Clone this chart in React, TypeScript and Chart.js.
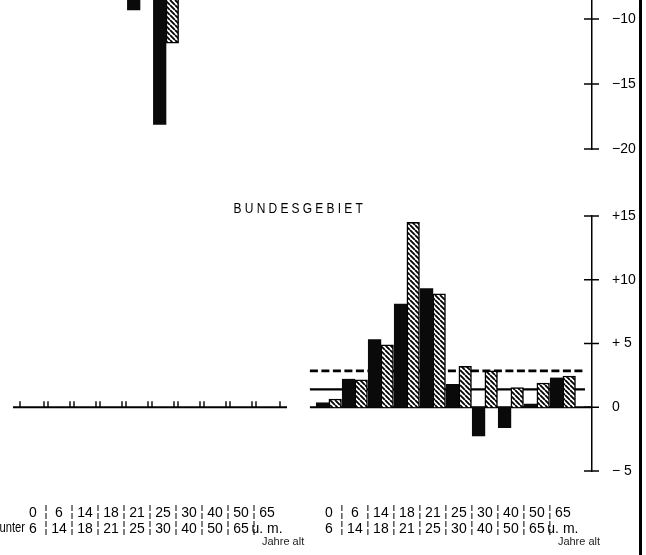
import React, { useEffect, useRef } from "react";
import { Chart, registerables } from "chart.js";
Chart.register(...registerables);

// ---- data ----
const ageFrom = ["0", "6", "14", "18", "21", "25", "30", "40", "50", "65"];
const ageTo = ["6", "14", "18", "21", "25", "30", "40", "50", "65", "u. m."];

// upper panel (cut off at the top of the picture); null = not visible
const upperLeftBlack = [null, null, null, null, -9.3, -18.1, null, null, null, null];
const upperLeftHatched = [null, null, null, null, null, -11.85, null, null, null, null];

// BUNDESGEBIET, right half
const lowerRightBlack = [0.35, 2.2, 5.3, 8.1, 9.3, 1.8, -2.25, -1.6, 0.25, 2.3];
const lowerRightHatched = [0.65, 2.15, 4.9, 14.5, 8.9, 3.2, 2.85, 1.55, 1.9, 2.45];

const refDashed = 2.85;
const refSolid = 1.4;

const upperTicks = [-10, -15, -20];
const upperTickLabels = ["\u221210", "\u221215", "\u221220"];
const lowerTicks = [15, 10, 5, 0, -5];
const lowerTickLabels = ["+15", "+10", "+ 5", "0", "\u2212 5"];

const titleText = "BUNDESGEBIET";
const underText = "unter";
const unitText = "Jahre alt";

// ---- layout constants ----
const FONT = "'Liberation Sans Narrow', 'Liberation Sans', Arial, sans-serif";
const SLOT = 26;
const X_MIN = -33 / SLOT;
const X_MIN_TOP = -36 / SLOT;
const X_SPAN = 592 / SLOT;
const RIGHT_OFFSET = 11.38;
const BAR_W = 12.6;
const LABEL_PAD = 26;
const LINE_H = 16;
const ROW_SHIFT = 7;

function makeHatch(): CanvasPattern | string {
  const s = 5;
  const c = document.createElement("canvas");
  c.width = s;
  c.height = s;
  const g = c.getContext("2d");
  if (!g) return "#888";
  g.fillStyle = "#fff";
  g.fillRect(0, 0, s, s);
  g.strokeStyle = "#000";
  g.lineWidth = 1.8;
  g.beginPath();
  for (const k of [-s, 0, s]) {
    g.moveTo(k, 0);
    g.lineTo(k + s, s);
  }
  g.stroke();
  return g.createPattern(c, "repeat") || "#888";
}

function crossTicks(values: number[]) {
  return {
    id: "crossTicks",
    afterDraw(chart: any) {
      const ys = chart.scales.y;
      const ctx = chart.ctx;
      const x0 = chart.chartArea.right;
      ctx.save();
      ctx.strokeStyle = "#000";
      ctx.lineWidth = 1.5;
      values.forEach((v) => {
        const py = ys.getPixelForValue(v);
        ctx.beginPath();
        ctx.moveTo(x0 - 8, py);
        ctx.lineTo(x0 + 7, py);
        ctx.stroke();
      });
      ctx.restore();
    },
  };
}

function yAxis(min: number, max: number, ticks: number[], labels: string[]) {
  return {
    type: "linear",
    position: "right",
    min,
    max,
    grid: { display: false },
    border: { display: true, color: "#000", width: 1.5 },
    afterBuildTicks: (scale: any) => {
      scale.ticks = ticks.map((v) => ({ value: v }));
    },
    afterFit: (scale: any) => {
      scale.width = 54;
      scale.paddingTop = 0;
      scale.paddingBottom = 0;
    },
    ticks: {
      padding: 12,
      color: "#000",
      font: { family: FONT, size: 14 },
      callback: (v: number) => labels[ticks.indexOf(v)] ?? "",
    },
  };
}

function TopChart() {
  const ref = useRef<HTMLCanvasElement>(null);
  useEffect(() => {
    if (!ref.current) return;
    const hatch = makeHatch();
    const chart = new Chart(ref.current, {
      type: "bar",
      data: {
        datasets: [
          {
            data: upperLeftBlack.map((v, i) => ({ x: i, y: v })) as any,
            backgroundColor: "#0a0a0a",
            borderWidth: 0,
            barThickness: BAR_W,
          },
          {
            data: upperLeftHatched.map((v, i) => ({ x: i, y: v })) as any,
            backgroundColor: hatch as any,
            borderColor: "#000",
            borderWidth: 1.5,
            barThickness: BAR_W,
          },
        ],
      },
      options: {
        responsive: false,
        animation: false,
        layout: { padding: { left: 0, right: 0, top: 0, bottom: 21 } },
        plugins: { legend: { display: false }, tooltip: { enabled: false }, title: { display: false } },
        scales: {
          x: { type: "linear", display: false, min: X_MIN_TOP, max: X_MIN_TOP + X_SPAN, offset: false },
          y: yAxis(-20, -10 + 19 / 13, upperTicks, upperTickLabels) as any,
        },
      },
      plugins: [crossTicks(upperTicks)],
    });
    return () => chart.destroy();
  }, []);
  return (
    <canvas
      ref={ref}
      width={646}
      height={170}
      style={{ position: "absolute", left: 0, top: 0, width: 646, height: 170 }}
    />
  );
}

function LowerChart() {
  const ref = useRef<HTMLCanvasElement>(null);
  useEffect(() => {
    if (!ref.current) return;
    const hatch = makeHatch();
    const decor = {
      id: "decor",
      beforeDatasetsDraw(chart: any) {
        const { ctx, scales } = chart;
        const xs = scales.x;
        const ys = scales.y;
        const y0 = ys.getPixelForValue(0);
        ctx.save();
        ctx.strokeStyle = "#000";
        // left panel baseline with boundary ticks
        ctx.lineWidth = 2;
        ctx.beginPath();
        ctx.moveTo(xs.getPixelForValue(-0.77), y0);
        ctx.lineTo(xs.getPixelForValue(9.77), y0);
        ctx.stroke();
        ctx.lineWidth = 1.4;
        for (let k = -1; k < ageFrom.length; k++) {
          const bx = xs.getPixelForValue(k + 0.5);
          const offs = k === -1 || k === ageFrom.length - 1 ? [0] : [-2, 2];
          offs.forEach((o) => {
            ctx.beginPath();
            ctx.moveTo(bx + o, y0);
            ctx.lineTo(bx + o, y0 - 6);
            ctx.stroke();
          });
        }
        // right panel baseline
        ctx.lineWidth = 2;
        ctx.beginPath();
        ctx.moveTo(xs.getPixelForValue(RIGHT_OFFSET - 0.73), y0);
        ctx.lineTo(chart.chartArea.right, y0);
        ctx.stroke();
        // reference lines
        const xa = xs.getPixelForValue(RIGHT_OFFSET - 0.73);
        const xb = xs.getPixelForValue(RIGHT_OFFSET + 9.85);
        ctx.lineWidth = 2.2;
        ctx.beginPath();
        ctx.moveTo(xa, ys.getPixelForValue(refSolid));
        ctx.lineTo(xb, ys.getPixelForValue(refSolid));
        ctx.stroke();
        ctx.lineWidth = 2.6;
        ctx.setLineDash([8, 3.5]);
        ctx.beginPath();
        ctx.moveTo(xa, ys.getPixelForValue(refDashed));
        ctx.lineTo(xb, ys.getPixelForValue(refDashed));
        ctx.stroke();
        ctx.restore();
      },
      afterDraw(chart: any) {
        const { ctx, scales } = chart;
        const xs = scales.x;
        const row1 = xs.top + LABEL_PAD + LINE_H / 2 + ROW_SHIFT;
        ctx.save();
        ctx.fillStyle = "#000";
        // title (condensed, letter-spaced)
        ctx.save();
        ctx.font = `15px ${FONT}`;
        (ctx as any).letterSpacing = "4px";
        ctx.textAlign = "center";
        ctx.textBaseline = "middle";
        ctx.translate(xs.getPixelForValue(10.2), 19);
        ctx.scale(0.8, 1);
        ctx.fillText(titleText, 2, 0);
        ctx.restore();
        // separators between label columns
        ctx.strokeStyle = "#000";
        ctx.lineWidth = 1;
        ctx.setLineDash([6, 2]);
        [0, RIGHT_OFFSET].forEach((off) => {
          for (let k = 0; k < ageFrom.length - 1; k++) {
            const bx = xs.getPixelForValue(off + k + 0.5);
            ctx.beginPath();
            ctx.moveTo(bx, row1 - 7);
            ctx.lineTo(bx, row1 + LINE_H + 7);
            ctx.stroke();
          }
        });
        ctx.setLineDash([]);
        ctx.textBaseline = "middle";
        // "unter" (condensed)
        ctx.save();
        ctx.font = `14px ${FONT}`;
        ctx.textAlign = "right";
        ctx.translate(xs.getPixelForValue(0) - 8, row1 + LINE_H);
        ctx.scale(0.8, 1);
        ctx.fillText(underText, 0, 0);
        ctx.restore();
        // "Jahre alt"
        ctx.font = `11px ${FONT}`;
        ctx.textAlign = "left";
        ctx.fillStyle = "#222";
        [0, RIGHT_OFFSET].forEach((off) => {
          ctx.fillText(unitText, xs.getPixelForValue(off + 9) - 5, row1 + 2 * LINE_H - 2);
        });
        ctx.restore();
      },
    };
    const chart = new Chart(ref.current, {
      type: "bar",
      data: {
        datasets: [
          {
            data: lowerRightBlack.map((v, j) => ({ x: RIGHT_OFFSET + j, y: v })) as any,
            backgroundColor: "#0a0a0a",
            borderWidth: 0,
            barThickness: BAR_W,
          },
          {
            data: lowerRightHatched.map((v, j) => ({ x: RIGHT_OFFSET + j, y: v })) as any,
            backgroundColor: hatch as any,
            borderColor: "#000",
            borderWidth: 1.5,
            barThickness: BAR_W,
          },
        ],
      },
      options: {
        responsive: false,
        animation: false,
        layout: { padding: { left: 0, right: 0, top: 26, bottom: 0 } },
        plugins: { legend: { display: false }, tooltip: { enabled: false }, title: { display: false } },
        scales: {
          x: {
            type: "linear",
            position: "bottom",
            min: X_MIN,
            max: X_MIN + X_SPAN,
            offset: false,
            grid: { display: false, offset: false },
            border: { display: false },
            afterBuildTicks: (scale: any) => {
              scale.ticks = [
                ...ageFrom.map((_, i) => ({ value: i })),
                ...ageFrom.map((_, i) => ({ value: RIGHT_OFFSET + i })),
              ];
            },
            afterFit: (scale: any) => {
              scale.height = 84;
              scale.paddingLeft = 0;
              scale.paddingRight = 0;
            },
            ticks: {
              autoSkip: false,
              maxRotation: 0,
              minRotation: 0,
              padding: LABEL_PAD,
              color: "#000",
              font: { family: FONT, size: 14, lineHeight: LINE_H / 14 },
              callback: (_v: number, index: number) => {
                const k = index % ageFrom.length;
                return [ageFrom[k], ageTo[k]];
              },
            },
          } as any,
          y: yAxis(-5, 15, lowerTicks, lowerTickLabels) as any,
        },
      },
      plugins: [decor, crossTicks(lowerTicks)],
    });
    return () => chart.destroy();
  }, []);
  return (
    <canvas
      ref={ref}
      width={646}
      height={365}
      style={{ position: "absolute", left: 0, top: 190, width: 646, height: 365 }}
    />
  );
}

export default function App() {
  return (
    <div
      style={{
        position: "fixed",
        left: 0,
        top: 0,
        width: 646,
        height: 555,
        background: "#fff",
        overflow: "hidden",
      }}
    >
      <TopChart />
      <LowerChart />
      <div style={{ position: "absolute", left: 639, top: 0, width: 2.5, height: 555, background: "#000" }} />
    </div>
  );
}
